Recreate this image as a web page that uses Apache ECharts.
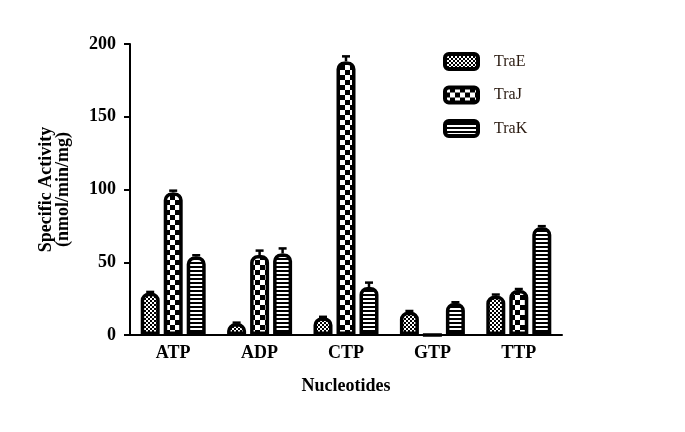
<!DOCTYPE html>
<html><head><meta charset="utf-8">
<script src="https://cdn.jsdelivr.net/npm/echarts@6/dist/echarts.min.js"></script>
<style>html,body{margin:0;padding:0;background:#fff}#c{width:685px;height:432px}</style>
</head><body><div id="c"></div>
<script>
const categories = ['ATP','ADP','CTP','GTP','TTP'];
const seriesNames = ['TraE','TraJ','TraK'];
const traE = [29, 8, 12, 16, 27];
const traJ = [98, 55, 188, 0, 31];
const traK = [54, 56, 33, 22, 74];
const errE = [0.6, 0.5, 0.5, 0.5, 0.8];
const errJ = [1.2, 3, 3.5, 0, 0.6];
const errK = [0.8, 3.5, 3, 0.5, 0.8];
const yTicks = [0, 50, 100, 150, 200];

function makePattern(kind){
  const c = document.createElement('canvas');
  const ctx = c.getContext('2d');
  if(kind==='E'){
    c.width=4;c.height=4;
    ctx.fillStyle='#000';ctx.fillRect(0,0,4,4);
    ctx.fillStyle='#fff';ctx.fillRect(0,0,2,2);ctx.fillRect(2,2,2,2);
  } else if(kind==='J'){
    c.width=10;c.height=10;
    ctx.fillStyle='#000';ctx.fillRect(0,0,10,10);
    ctx.fillStyle='#fff';ctx.fillRect(0,0,5,5);ctx.fillRect(5,5,5,5);
  } else {
    c.width=4;c.height=4;
    ctx.fillStyle='#000';ctx.fillRect(0,0,4,4);
    ctx.fillStyle='#fff';ctx.fillRect(0,0,4,2);
  }
  return {image:c, repeat:'repeat'};
}
const patterns = [makePattern('E'), makePattern('J'), makePattern('K')];
const values = [traE, traJ, traK];
const errs = [errE, errJ, errK];
const BW = 19, GAP = 4;
const font = '"Liberation Serif", "Times New Roman", serif';

const series = [];
seriesNames.forEach((n,i)=>{
  series.push({
    name:n, type:'bar', data:values[i], barWidth:BW, barGap:(GAP/BW*100)+'%',
    itemStyle:{color:patterns[i], borderColor:'#000', borderWidth:3.5, borderRadius:[6,6,0,0]},
    z:2
  });
});
seriesNames.forEach((n,i)=>{
  series.push({
    type:'custom', name:n+'err', z:3, silent:true,
    data: values[i].map((v,k)=>[k, v, errs[i][k]]),
    renderItem:function(params, api){
      const x = api.value(0), v = api.value(1), e = api.value(2);
      if(v===0 || e===0) return null;
      const top = api.coord([x, v+e]);
      const base = api.coord([x, v]);
      const cx = top[0] + (i-1)*(BW+GAP);
      return {type:'group', children:[
        {type:'line', shape:{x1:cx, y1:base[1], x2:cx, y2:top[1]}, style:{stroke:'#000', lineWidth:2.5}},
        {type:'line', shape:{x1:cx-4, y1:top[1], x2:cx+4, y2:top[1]}, style:{stroke:'#000', lineWidth:2.5}}
      ]};
    }
  });
});

const chart = echarts.init(document.getElementById('c'));
chart.setOption({
  backgroundColor:'#fff',
  animation:false,
  grid:{left:130, right:123, top:44, bottom:97},
  legend:{
    data:seriesNames.map((n,i)=>({name:n, itemStyle:{color:patterns[i], borderColor:'#000', borderWidth:4}})),
    orient:'vertical', left:438, top:47,
    itemWidth:33, itemHeight:15, itemGap:14.5, icon:'roundRect',
    textStyle:{fontFamily:font, fontSize:16, color:'#2a1a10', padding:[0,0,0,11]}
  },
  xAxis:{
    type:'category', data:categories,
    name:'Nucleotides', nameLocation:'middle', nameGap:42,
    nameTextStyle:{fontFamily:font, fontWeight:'bold', fontSize:18, color:'#000'},
    axisLine:{lineStyle:{color:'#000', width:2}},
    axisTick:{alignWithLabel:true, length:6, lineStyle:{color:'#000', width:2}},
    axisLabel:{fontFamily:font, fontWeight:'bold', fontSize:18, color:'#000', margin:9}
  },
  yAxis:{
    type:'value', min:0, max:200, interval:50,
    name:'Specific Activity\n(nmol/min/mg)', nameLocation:'middle', nameGap:58,
    nameTextStyle:{fontFamily:font, fontWeight:'bold', fontSize:18, color:'#000', lineHeight:17},
    axisLine:{show:true, lineStyle:{color:'#000', width:2}},
    axisTick:{show:true, length:6, lineStyle:{color:'#000', width:2}},
    splitLine:{show:false},
    axisLabel:{fontFamily:font, fontWeight:'bold', fontSize:18, color:'#000', margin:14,
      formatter:v=> yTicks.includes(v) ? String(v) : ''}
  },
  series:series
});
</script></body></html>
